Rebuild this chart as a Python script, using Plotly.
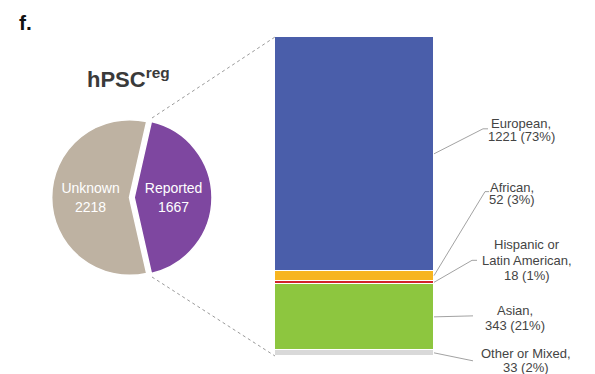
import plotly.graph_objects as go

# ---- data ----
pie_labels = ["Reported", "Unknown"]
pie_values = [1667, 2218]
pie_colors = ["#7E47A0", "#BEB2A2"]

groups = ["Other or Mixed", "Asian", "Hispanic or Latin American", "African", "European"]
group_values = [33, 343, 18, 52, 1221]
group_colors = ["#D9D9D9", "#8DC63F", "#D2232A", "#F7B520", "#4A5EAA"]
label_lines = [["Other or Mixed,", "33 (2%)"],
               ["Asian,", "343 (21%)"],
               ["Hispanic or", "Latin American,", "18 (1%)"],
               ["African,", "52 (3%)"],
               ["European,", "1221 (73%)"]]

W, H = 595, 374
FONT = "Liberation Sans, Arial, Helvetica, sans-serif"

fig = go.Figure()

# pie
fig.add_trace(go.Pie(
    labels=pie_labels, values=pie_values, sort=False, direction="clockwise",
    rotation=90 - 180 * pie_values[0] / sum(pie_values),
    marker=dict(colors=pie_colors, line=dict(color="white", width=1.5)),
    pull=[0.06, 0],
    texttemplate="%{label}<br>%{value}", textposition="inside",
    insidetextorientation="horizontal",
    textfont=dict(color="white", size=14, family=FONT),
    domain=dict(x=[47 / W, 212 / W], y=[(H - 280) / H, (H - 115) / H]),
    showlegend=False, hoverinfo="label+value",
))

# stacked bar
for g, v, c in zip(groups, group_values, group_colors):
    fig.add_trace(go.Bar(
        x=[0], y=[v], name=g, marker=dict(color=c, line=dict(color="white", width=1)),
        width=1, showlegend=False,
    ))

total = sum(group_values)
bar_y0, bar_y1 = (H - 356) / H, (H - 37) / H
bar_x0, bar_x1 = 275 / W, 434 / W

annotations = [
    dict(text="<b>f.</b>", x=17 / W, y=(H - 22) / H, xref="paper", yref="paper",
         xanchor="left", yanchor="middle", showarrow=False,
         font=dict(size=21, color="#111", family=FONT)),
    dict(text="<b>hPSC<sup>reg</sup></b>", x=128 / W, y=(H - 78) / H, xref="paper", yref="paper",
         xanchor="center", yanchor="middle", showarrow=False,
         font=dict(size=22, color="#3a3a3a", family=FONT)),
]

# leader line bend offsets (pixels from bar edge / segment middle), hook length
leader_ends = [(39, 8), (39, -1), (38, -22), (51, -84), (49, -25)]
hook = [0, 0, 5, 4, 5]
# label block centre x and first-line y (pixels), line spacing
label_x = [526, 515, 527, 512, 521]
label_y0 = [353, 310, 245, 187, 123]
line_gap = [14, 15, 15, 13, 13]

shapes = []
cum = 0
for i, v in enumerate(group_values):
    mid = cum + v / 2
    cum += v
    py0 = bar_y0 + (mid / total) * (bar_y1 - bar_y0)
    px0 = bar_x1
    dx, dy = leader_ends[i]
    px1 = px0 + dx / W
    py1 = py0 - dy / H
    px2 = px1 + hook[i] / W
    shapes.append(dict(
        type="path", xref="paper", yref="paper",
        path=f"M {px0} {py0} L {px1} {py1} L {px2} {py1}",
        line=dict(color="#8a8a8a", width=0.8),
    ))
    for k, t in enumerate(label_lines[i]):
        annotations.append(dict(
            text=t, x=label_x[i] / W, y=(H - (label_y0[i] + k * line_gap[i])) / H,
            xref="paper", yref="paper", xanchor="center", yanchor="middle",
            showarrow=False, font=dict(size=13, color="#444", family=FONT),
        ))

shapes += [
    dict(type="line", xref="paper", yref="paper", x0=152 / W, y0=(H - 118) / H,
         x1=bar_x0, y1=bar_y1, line=dict(color="#9a9a9a", width=1, dash="dot")),
    dict(type="line", xref="paper", yref="paper", x0=152 / W, y0=(H - 277) / H,
         x1=bar_x0, y1=bar_y0, line=dict(color="#9a9a9a", width=1, dash="dot")),
]

fig.update_layout(
    width=W, height=H, margin=dict(l=0, r=0, t=0, b=0),
    paper_bgcolor="white", plot_bgcolor="white",
    barmode="stack", bargap=0,
    xaxis=dict(domain=[bar_x0, bar_x1], range=[-0.5, 0.5], visible=False, fixedrange=True),
    yaxis=dict(domain=[bar_y0, bar_y1], range=[0, total], visible=False, fixedrange=True),
    annotations=annotations, shapes=shapes,
    font=dict(family=FONT),
)

fig.write_html("out.html", post_script="document.body.style.margin='0';",
               config={"displayModeBar": False})
